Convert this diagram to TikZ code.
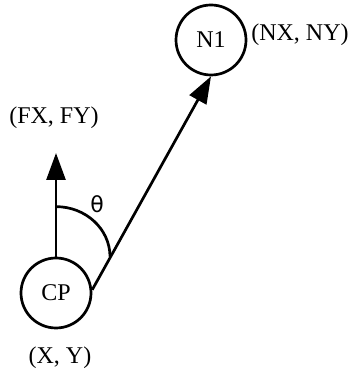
\documentclass[tikz,border=0pt]{standalone}
\usepackage{fontspec}
\setmainfont{Liberation Serif}
\newfontfamily\symfont{DejaVu Sans}
\usetikzlibrary{arrows.meta,positioning}
\begin{document}
\begin{tikzpicture}[x=1pt,y=1pt,line width=2.7pt,
    pnode/.style={circle,draw,minimum size=70pt,inner sep=0pt,font=\fontsize{24}{28}\selectfont},
    plabel/.style={font=\fontsize{24}{28}\selectfont,inner sep=0pt},
    vec/.style={-{Triangle[length=27pt,width=19pt]}}]
    \useasboundingbox (0,0) rectangle (352,382);
    % points
    \node[pnode] (cp) at (56,89) {CP};
    \node[pnode] (n1) at (211,342) {N1};
    \coordinate (ftip) at (56,229);
    % coordinates
    \node[plabel] (cplab) at (60,24) {(X, Y)};
    \node[plabel] (n1lab) at (300,347) {(NX, NY)};
    \node[plabel] (flab) at (54,264) {(FX, FY)};
    % vectors
    \draw[vec] (cp.north) -- (ftip);
    \draw[vec] (cp.5) -- (n1.south);
    % angle
    \draw ([yshift=50pt]cp.north) arc[start angle=90,end angle=0,x radius=54,y radius=50];
    \node[font=\symfont\fontsize{22}{26}\selectfont,inner sep=0pt] (theta) at (97,178) {θ};
\end{tikzpicture}
\end{document}
